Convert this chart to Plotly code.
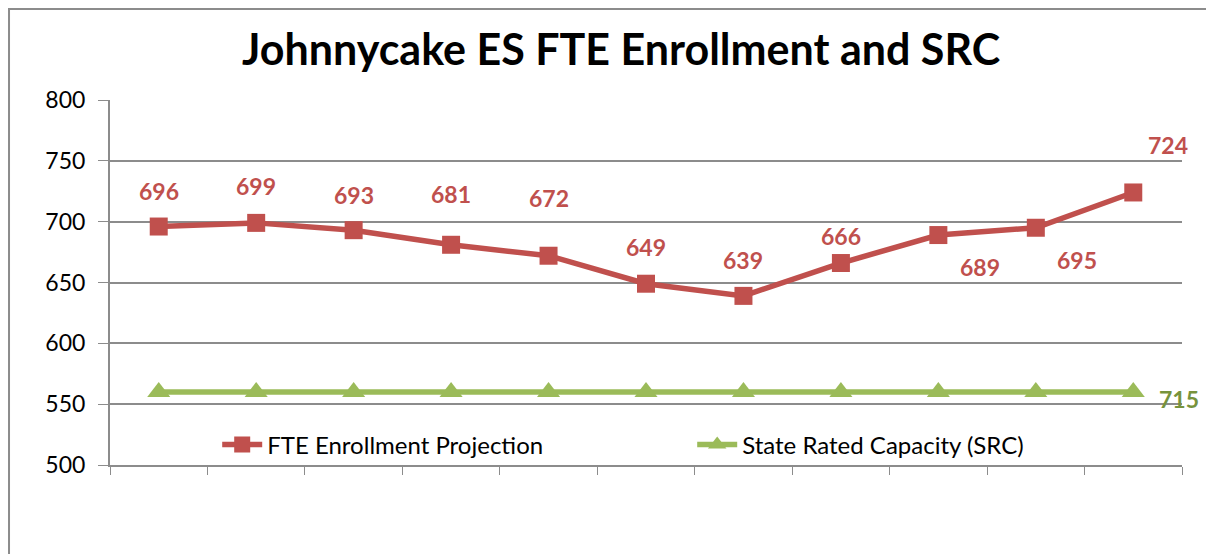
import plotly.graph_objects as go

categories = list(range(11))
enrollment = [696, 699, 693, 681, 672, 649, 639, 666, 689, 695, 724]
src = [560] * 11
src_label = "715"
y_ticks = [500, 550, 600, 650, 700, 750, 800]

RED = "#C0504D"
GREEN = "#9BBB59"
GRID = "#8C8C8C"
FONT = "Lato, 'Open Sans', sans-serif"

fig = go.Figure()
fig.add_trace(go.Scatter(
    x=categories, y=enrollment, mode="lines+markers",
    name="FTE Enrollment Projection",
    line=dict(color=RED, width=5.5),
    marker=dict(symbol="square", size=18, color=RED),
))
fig.add_trace(go.Scatter(
    x=categories, y=src, mode="lines+markers",
    name="State Rated Capacity (SRC)",
    line=dict(color=GREEN, width=5.5),
    marker=dict(symbol="triangle-up", size=20, color=GREEN),
))

# label offsets (px)
shifts = [(0, 36), (0, 37), (0, 35), (0, 51), (0, 58), (0, 37), (0, 36),
          (0, 27), (42, -32), (41, -32), (35, 47)]
for i, (v, (dx, dy)) in enumerate(zip(enrollment, shifts)):
    fig.add_annotation(x=categories[i], y=v, text=str(v), showarrow=False,
                       xshift=dx, yshift=dy,
                       font=dict(family=FONT, size=23, color=RED, weight="bold"))
fig.add_annotation(x=categories[-1], y=src[-1], text=src_label, showarrow=False,
                   xshift=46, yshift=-7,
                   font=dict(family=FONT, size=23, color="#77933C", weight="bold"))

# outer chart border
fig.add_shape(type="path", xref="paper", yref="paper",
              path="M -0.0942,-0.5 L -0.0942,1.249 L 1.1,1.249",
              line=dict(color="#8C8C8C", width=2))

fig.update_layout(
    width=1214, height=554,
    margin=dict(l=102, r=40, t=92, b=97),
    paper_bgcolor="white", plot_bgcolor="white",
    title=dict(text="<b>Johnnycake ES FTE Enrollment and SRC</b>",
               x=0.505, xanchor="center", y=0.924, yanchor="middle",
               font=dict(family=FONT, size=43, color="black")),
    font=dict(family=FONT, size=20, color="black"),
    showlegend=True,
    legend=dict(orientation="h", x=0.1, xanchor="left", y=0.055, yanchor="middle",
                bgcolor="rgba(0,0,0,0)", font=dict(size=24),
                entrywidth=420, entrywidthmode="pixels", itemwidth=40),
    xaxis=dict(range=[-0.5, 10.5], tickvals=[i - 0.5 for i in range(12)],
               ticktext=[""] * 12, ticks="outside", ticklen=8, tickcolor=GRID,
               showline=True, linecolor=GRID, linewidth=2, showgrid=False,
               zeroline=False),
    yaxis=dict(range=[500, 800], tickvals=y_ticks, ticks="outside", ticklen=10,
               tickcolor=GRID, showline=True, linecolor=GRID, linewidth=2,
               showgrid=True, gridcolor=GRID, gridwidth=2, zeroline=False,
               ticklabelstandoff=8, tickfont=dict(size=23)),
)

fig.write_html("out.html")
